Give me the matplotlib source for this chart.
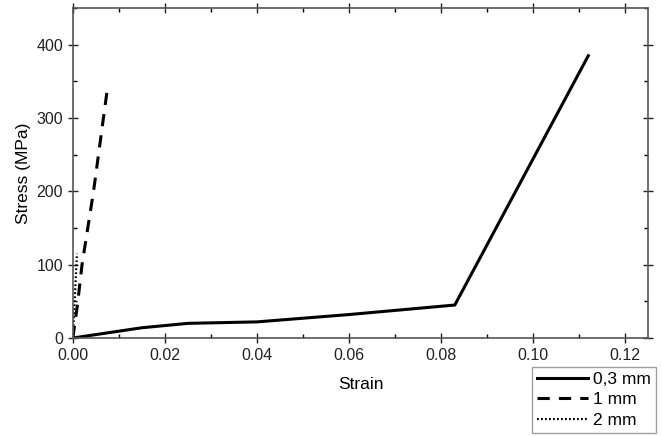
import matplotlib
matplotlib.use("Agg")
import matplotlib.pyplot as plt
from matplotlib.ticker import MultipleLocator

plt.rcParams['font.family'] = ['Liberation Sans', 'DejaVu Sans']

# Dados (deformação, tensão em MPa)
strain_03 = [0.0, 0.015, 0.025, 0.040, 0.060, 0.083, 0.112]
stress_03 = [0, 14, 20, 22, 32, 45, 385]

strain_1 = [0.0, 0.001, 0.002, 0.0045, 0.0074]
stress_1 = [0, 45, 100, 200, 335]

strain_2 = [0.0, 0.0004, 0.0009]
stress_2 = [0, 50, 115]

labels = ['0,3 mm', '1 mm', '2 mm']

fig = plt.figure(figsize=(6.62, 4.37), dpi=100)
ax = fig.add_axes([0.110, 0.2265, 0.869, 0.755])

l1, = ax.plot(strain_03, stress_03, 'k-', linewidth=2.2)
l2, = ax.plot(strain_1, stress_1, 'k--', linewidth=2.2, dashes=(4, 3))
l3, = ax.plot(strain_2, stress_2, 'k:', linewidth=1.6, dashes=(0.8, 1.0))

ax.set_xlim(0, 0.125)
ax.set_ylim(0, 450)
ax.xaxis.set_major_locator(MultipleLocator(0.02))
ax.xaxis.set_minor_locator(MultipleLocator(0.01))
ax.yaxis.set_major_locator(MultipleLocator(100))
ax.yaxis.set_minor_locator(MultipleLocator(50))
ax.xaxis.set_major_formatter(matplotlib.ticker.FormatStrFormatter('%.2f'))

ax.tick_params(which='major', direction='inout', length=7, width=1.0,
               top=True, right=True, labelsize=11.5, colors='#222222')
ax.tick_params(which='minor', direction='in', length=3, width=1.0,
               top=True, right=True)
for s in ax.spines.values():
    s.set_color('#555555')
    s.set_linewidth(1.2)

ax.set_xlabel('Strain', fontsize=12.5, labelpad=10)
ax.set_ylabel('Stress (MPa)', fontsize=12.5, labelpad=4)

leg = fig.legend([l1, l2, l3], labels, loc='lower right',
                 bbox_to_anchor=(0.991, 0.009), fontsize=12.5, frameon=True,
                 fancybox=False, edgecolor='#888888', handlelength=2.9,
                 handletextpad=0.3, borderpad=0.3, labelspacing=0.3,
                 borderaxespad=0)
leg.get_frame().set_linewidth(1.0)

fig.savefig('out.png', dpi=100)
